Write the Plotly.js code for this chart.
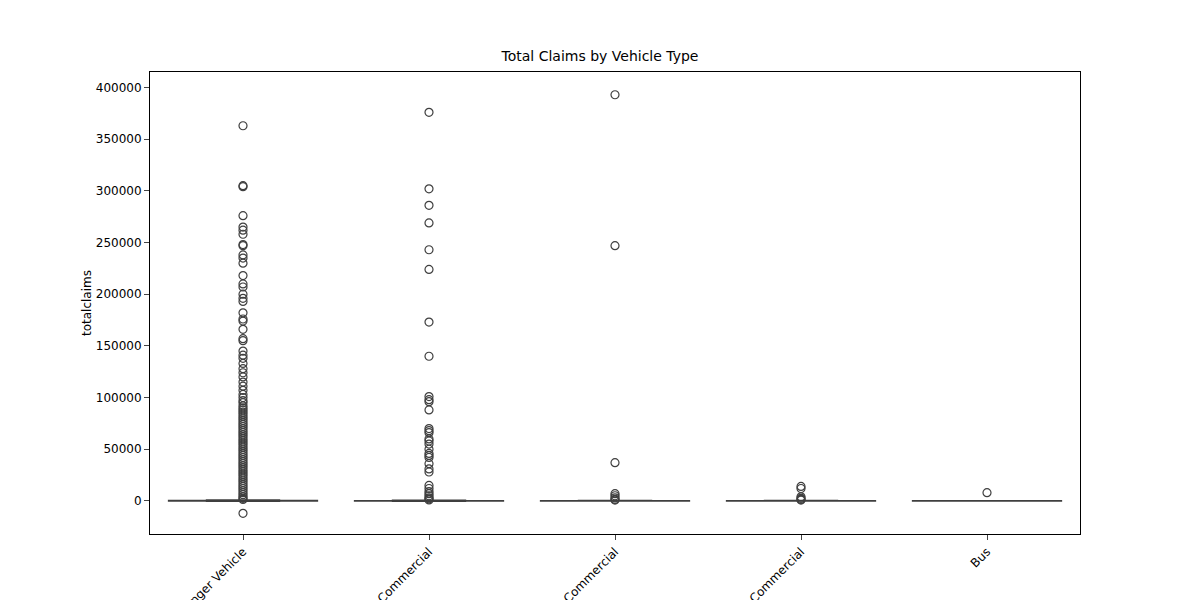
<!DOCTYPE html>
<html><head><script src="https://cdn.plot.ly/plotly-3.0.1.min.js"></script></head>
<body style="margin:0"><div id="c" style="width:1200px;height:600px"></div>
<script>
const categories = ["Passenger Vehicle","Medium Commercial","Heavy Commercial","Light Commercial","Bus"];
const q1 = [0,0,0,0,0], med = [0,0,0,0,0], q3 = [300,200,150,100,50];
const lowF = [-300,-200,-150,-100,-50], upF = [900,600,500,300,150];
const outPassenger = [-12000,363000,305000,304000,276000,265000,262000,258000,248000,247000,238000,235000,230000,218000,210000,207000,200000,196000,193000,182000,176000,174000,166000,157000,155000,145000,141000,138000,133000,128000,124000,120000,115000,111000,107000,103000,100000,97000,95000,92000,90000,88000,86000,84000,82000,80000,78000,76000,74000,72000,70000,68000,66000,64000,62000,60000,58000,56000,54000,52000,50000,48000,46000,44000,42000,40000,38000,36000,34000,32000,30000,28000,26000,24000,22000,20000,18000,16000,14000,12000,10000,8000,6000,4000,2500,1500];
const outMedium = [376000,302000,286000,269000,243000,224000,173000,140000,101000,98000,96000,88000,70000,68000,66000,60000,58000,55000,50000,46000,44000,42000,36000,31000,28000,15000,12000,9000,7000,5000,3000,2000,1000];
const outHeavy = [393000,247000,37000,7000,5000,3000,1500,800];
const outLight = [14000,12000,4000,2500,1500,800];
const outBus = [8000];
const outs = [outPassenger,outMedium,outHeavy,outLight,outBus];
const col = '#3f3f3f';
const traces = [{type:'box', x:categories, q1:q1, median:med, q3:q3, lowerfence:lowF, upperfence:upF,
  line:{color:col,width:1.5}, fillcolor:'#3f3f3f', width:0.8, showlegend:false, hoverinfo:'skip'}];
outs.forEach((o,i)=>traces.push({type:'scatter',mode:'markers',x:o.map(()=>categories[i]),y:o,showlegend:false,
  marker:{symbol:'circle-open',size:8,color:col,line:{width:1.2,color:col}}}));
Plotly.newPlot('c',traces,{
  width:1200,height:600,plot_bgcolor:'white',paper_bgcolor:'white',
  font:{family:'DejaVu Sans',size:12,color:'black'},
  title:{text:'Total Claims by Vehicle Type',x:0.5,y:0.915,font:{size:14}},
  margin:{l:150,r:120,t:72,b:66},
  xaxis:{type:'category',range:[-0.5,4.5],tickangle:-45,showline:true,mirror:true,linecolor:'black',ticks:'outside',automargin:false,showgrid:false},
  yaxis:{title:{text:'totalclaims',font:{size:12}},range:[-32000,415000],dtick:50000,tickformat:'d',showline:true,mirror:true,linecolor:'black',ticks:'outside',showgrid:false,zeroline:false,automargin:false}
},{displayModeBar:false});
</script></body></html>
